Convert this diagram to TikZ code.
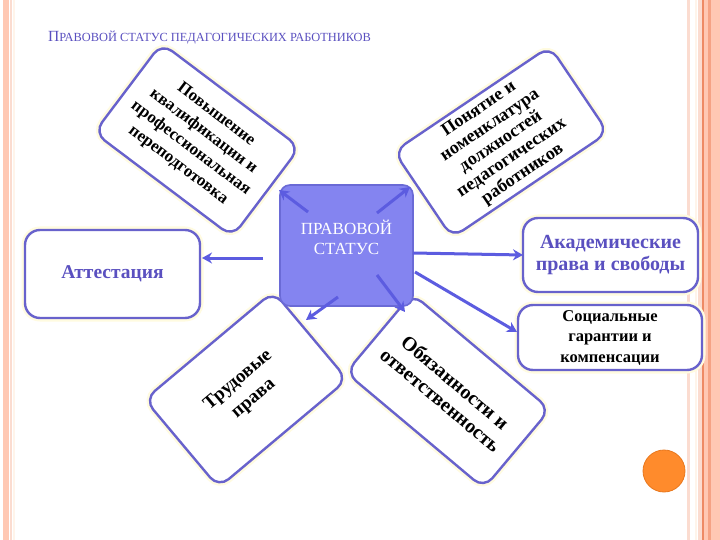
\documentclass[tikz,border=0pt]{standalone}
\usepackage{fontspec}
\setmainfont{Liberation Serif}
\usepackage{tikz}
\usetikzlibrary{arrows.meta}
\definecolor{rim}{HTML}{6862CC}
\definecolor{arrowc}{HTML}{5C5CE0}
\definecolor{hubfill}{HTML}{8484F0}
\definecolor{hubrim}{HTML}{6A6AD6}
\definecolor{ink}{HTML}{5A50C0}
\definecolor{glow}{HTML}{FFFBE0}
\definecolor{salmon}{HTML}{FFC8B3}
\definecolor{salmonln}{HTML}{EE8A64}
\definecolor{peach}{HTML}{FBDCD0}
\definecolor{pale}{HTML}{FFF4EA}
\definecolor{orng}{HTML}{FF8B2C}
\definecolor{orngln}{HTML}{E8781E}
\tikzset{
  every node/.style={font=\rmfamily},
  box/.style={draw=rim,line width=2.4pt,rounded corners=13pt,fill=white,align=center,
              preaction={draw=glow,line width=7pt},inner sep=2pt,
              font=\fontsize{17}{21}\selectfont\bfseries},
  flat/.style={box,rounded corners=15pt},
  hub/.style={draw=hubrim,line width=1.6pt,rounded corners=10pt,fill=hubfill,
              minimum width=133pt,minimum height=121pt},
  hubtxt/.style={text=white,align=center,font=\fontsize{17}{20}\selectfont,inner sep=0pt},
  ar/.style={-{Stealth[length=10pt,width=11pt]},draw=arrowc,line width=3pt},
  ttl/.style={text=ink,inner sep=0pt,font=\fontsize{12.4}{14}\selectfont},
}

\begin{document}
\begin{tikzpicture}[x=1pt,y=-1pt]
\useasboundingbox (0,0) rectangle (720,540);
\fill[white] (0,0) rectangle (720,540);
\fill[salmon] (3,0) rectangle (9,540);
\fill[peach] (10,0) rectangle (11.5,540);
\fill[pale] (13,0) rectangle (14.5,540);
\fill[peach] (687,0) rectangle (689.5,540);
\fill[pale] (695,0) rectangle (697,540);
\fill[peach] (698,0) rectangle (702,540);
\fill[salmonln] (702,0) rectangle (703.5,540);
\fill[salmon] (703.5,0) rectangle (720,540);
\fill[salmonln!60!salmon] (708,0) rectangle (710.5,540);

\node[ttl,anchor=base west] (title) at (48,42) {{\fontsize{15.5}{15}\selectfont П}РАВОВОЙ СТАТУС ПЕДАГОГИЧЕСКИХ РАБОТНИКОВ};

\node[box,rotate=-37,minimum width=173pt,minimum height=112pt] (kval) at (197,140)
  {Повышение\\квалификации и\\профессиональная\\переподготовка};
\node[box,rotate=34,minimum width=188pt,minimum height=104pt,inner sep=0pt,
      font=\fontsize{18}{19.5}\selectfont\bfseries] (nomen) at (501,142)
  {Понятие и\\номенклатура\\должностей\\педагогических\\работников};
\node[flat,minimum width=175pt,minimum height=88pt,text=ink,
      font=\fontsize{19.5}{23}\selectfont\bfseries] (attest) at (112.5,274) {Аттестация};
\node[flat,minimum width=175pt,minimum height=74pt,text=ink,
      font=\fontsize{20}{22}\selectfont\bfseries] (akad) at (610.5,255)
  {Академические\\права и свободы};
\node[flat,minimum width=184pt,minimum height=65pt,
      font=\fontsize{16.5}{20.5}\selectfont\bfseries] (soc) at (610,337.5)
  {Социальные\\гарантии и\\компенсации};
\node[box,rotate=40,minimum width=168pt,minimum height=115pt,
      font=\fontsize{19}{24}\selectfont\bfseries] (trud) at (246,389.5)
  {Трудовые\\права};
\node[box,rotate=-40,minimum width=180pt,minimum height=103pt,
      font=\fontsize{20}{23}\selectfont\bfseries] (obyaz) at (448,391)
  {Обязанности и\\ответственность};

\node[hub] (hub) at (346.5,245.5) {};
\node[hubtxt] (hubtxt) at (346.5,237.5) {ПРАВОВОЙ\\СТАТУС};

\coordinate (hub-kval) at (308,212);
\coordinate (hub-nomen) at (377,213);
\coordinate (hub-attest) at (263,258);
\coordinate (hub-akad) at (413,253);
\coordinate (hub-soc) at (415,272);
\coordinate (hub-obyaz) at (377,275);
\coordinate (hub-trud) at (338,297);
\coordinate (to-kval) at (279,190);
\coordinate (to-nomen) at (410,187);
\coordinate (to-attest) at (202,258);
\coordinate (to-akad) at (523,255);
\coordinate (to-soc) at (517,332);
\coordinate (to-obyaz) at (405,312);
\coordinate (to-trud) at (306,320);
\draw[ar] (hub-kval) -- (to-kval);
\draw[ar] (hub-nomen) -- (to-nomen);
\draw[ar] (hub-attest) -- (to-attest);
\draw[ar] (hub-akad) -- (to-akad);
\draw[ar] (hub-soc) -- (to-soc);
\draw[ar] (hub-obyaz) -- (to-obyaz);
\draw[ar] (hub-trud) -- (to-trud);

\filldraw[fill=orng,draw=orngln,line width=0.8pt] (664,471) circle (21);
\end{tikzpicture}
\end{document}
